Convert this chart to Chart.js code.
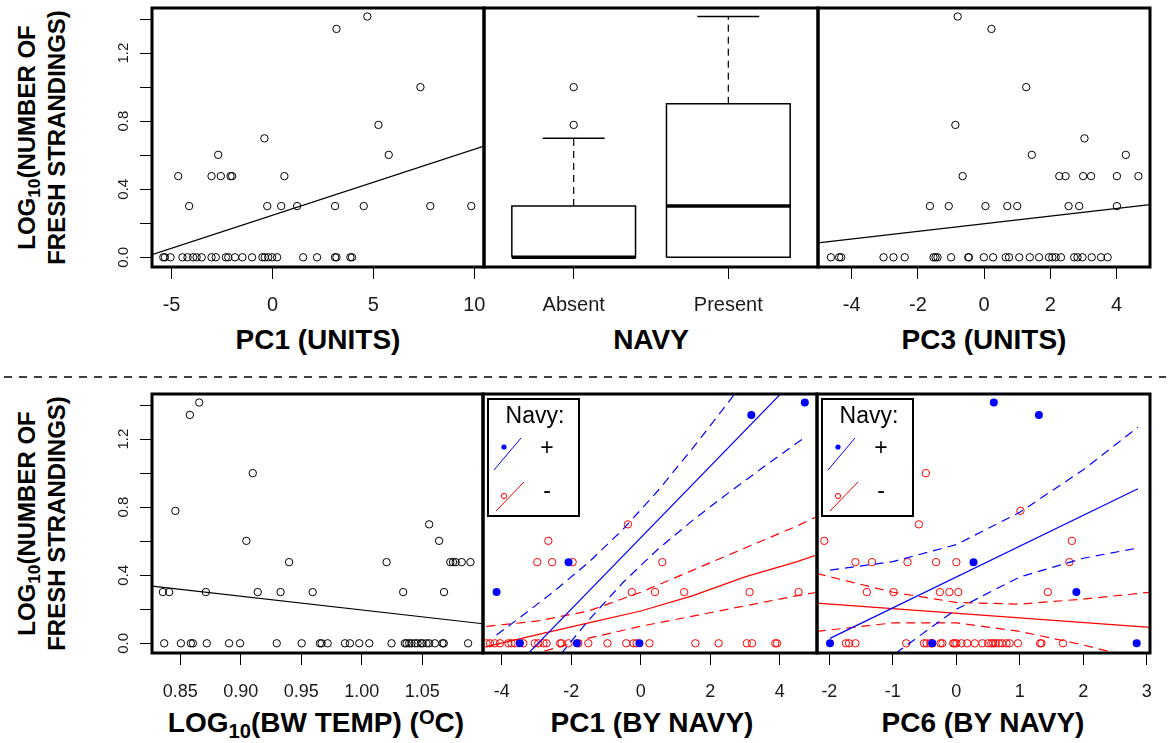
<!DOCTYPE html>
<html>
<head>
<meta charset="utf-8">
<title>Fresh strandings</title>
<script src="https://cdn.jsdelivr.net/npm/chart.js@4.4.0/dist/chart.umd.min.js"></script>
<style>
  body { margin: 0; background: #fff; }
  #page { position: relative; width: 1168px; height: 743px; overflow: hidden;
          font-family: "Liberation Sans", Arial, Helvetica, sans-serif; color: #000; }
  .xtitle { position: absolute; width: 340px; text-align: center; white-space: nowrap;
            font-weight: bold; font-size: 28px; line-height: 28px; }
  .ytitle { position: absolute; width: 300px; height: 59px; text-align: center; white-space: nowrap;
            font-weight: bold; font-size: 24px; line-height: 29.5px; transform: rotate(-90deg); }
  sub { font-size: 0.72em; line-height: 0; vertical-align: -0.3em; }
  sup { font-size: 0.72em; line-height: 0; vertical-align: 0.42em; }
</style>
</head>
<body>
<div id="page">
  <div class="ytitle" style="left:-109px; top:108px;">LOG<sub>10</sub>(NUMBER OF<br>FRESH STRANDINGS)</div>
  <div class="ytitle" style="left:-109px; top:494px;">LOG<sub>10</sub>(NUMBER OF<br>FRESH STRANDINGS)</div>

  <div class="xtitle" style="left:148px; top:326px;">PC1 (UNITS)</div>
  <div class="xtitle" style="left:481px; top:326px;">NAVY</div>
  <div class="xtitle" style="left:814px; top:326px;">PC3 (UNITS)</div>
  <div class="xtitle" style="left:146px; top:709px;">LOG<sub>10</sub>(BW TEMP) (<sup>O</sup>C)</div>
  <div class="xtitle" style="left:482px; top:709px;">PC1 (BY NAVY)</div>
  <div class="xtitle" style="left:813px; top:709px;">PC6 (BY NAVY)</div>

  <svg style="position:absolute; left:0; top:0;" width="1168" height="743">
    <line x1="4" y1="377" x2="1166" y2="377" stroke="#000" stroke-width="1.5" stroke-dasharray="8 7"/>
  </svg>
</div>

<script>
// ---- data ----
const yTicks = [0, 0.2, 0.4, 0.6, 0.8, 1.0, 1.2, 1.4];
const yLabels = ['0.0', '', '0.4', '', '0.8', '', '1.2', ''];

// PC1 (units)
const pc1Ticks = [-5, 0, 5, 10];
const pc1X = [4.70, 3.17, 7.33, 5.25, -0.40, 5.76, -2.69,
  -4.67, -3.02, -2.56, -2.08, -2.00, 0.59,
  -4.13, -0.26, 0.43, 1.22, 3.10, 4.52, 7.82, 9.85,
  -5.41, -5.33, -5.05, -4.46, -4.21, -3.93, -3.76, -3.51, -3.02, -2.81, -2.31, -2.19, -1.86,
  -1.49, -1.01, -0.50, -0.38, -0.21, -0.02, 0.23, 1.52, 2.21, 3.10, 3.17, 3.86, 3.94];
const pc1Y = [1.415, 1.342, 1.0, 0.778, 0.699, 0.602, 0.602,
  0.477, 0.477, 0.477, 0.477, 0.477, 0.477,
  0.301, 0.301, 0.301, 0.301, 0.301, 0.301, 0.301, 0.301,
  0, 0, 0, 0, 0, 0, 0, 0, 0, 0, 0, 0, 0,
  0, 0, 0, 0, 0, 0, 0, 0, 0, 0, 0, 0, 0];
const pc1FitX = [-5.97, 10.48];
const pc1FitY = [0.016, 0.653];

// Navy boxplot
const navyGroups = ['Absent', 'Present'];
const boxQ1 = [0, 0];
const boxMedian = [0, 0.301];
const boxQ3 = [0.301, 0.903];
const boxWhiskerHi = [0.699, 1.415];
const boxOutliers = [[0.778, 1.0], []];

// PC3 (units)
const pc3Ticks = [-4, -2, 0, 2, 4];
const pc3X = [-0.80, 0.22, 1.27, -0.87, 3.03, 1.44, 4.28,
  -0.65, 2.27, 2.46, 2.99, 3.23, 4.01, 4.66,
  -1.64, -1.07, 0.04, 0.70, 1.00, 2.55, 2.87, 4.01,
  -4.63, -4.38, -4.32, -3.04, -2.74, -2.40, -1.53, -1.47, -1.41, -1.00, -0.48, -0.46, -0.01,
  0.27, 0.65, 0.75, 1.06, 1.38, 1.66, 1.96, 2.06, 2.16, 2.32, 2.72, 2.82, 2.97, 3.25, 3.53, 3.73];
const pc3Y = [1.415, 1.342, 1.0, 0.778, 0.699, 0.602, 0.602,
  0.477, 0.477, 0.477, 0.477, 0.477, 0.477, 0.477,
  0.301, 0.301, 0.301, 0.301, 0.301, 0.301, 0.301, 0.301,
  0, 0, 0, 0, 0, 0, 0, 0, 0, 0, 0, 0, 0,
  0, 0, 0, 0, 0, 0, 0, 0, 0, 0, 0, 0, 0, 0, 0, 0];
const pc3FitX = [-5.02, 5.01];
const pc3FitY = [0.085, 0.310];

// log10 bottom water temperature
const tempTicks = [0.85, 0.90, 0.95, 1.00, 1.05];
const tempLabels = ['0.85', '0.90', '0.95', '1.00', '1.05'];
const tempX = [0.8657, 0.8580, 0.9100, 0.8460, 1.0558, 0.9047, 1.0640,
  0.9400, 1.0206, 1.0733, 1.0755, 1.0777, 1.0827, 1.0899,
  0.8357, 0.8409, 0.8712, 0.9141, 0.9330, 0.9595, 1.0343, 1.0681,
  0.8368, 0.8506, 0.8588, 0.8605, 0.8720, 0.8904, 0.8995, 0.9298, 0.9504, 0.9655, 0.9669,
  0.9719, 0.9862, 0.9903, 0.9980, 1.0063, 1.0247, 1.0357, 1.0371, 1.0393, 1.0412, 1.0440,
  1.0462, 1.0489, 1.0503, 1.0536, 1.0558, 1.0605, 1.0668, 1.0679, 1.0880];
const tempY = [1.415, 1.342, 1.0, 0.778, 0.699, 0.602, 0.602,
  0.477, 0.477, 0.477, 0.477, 0.477, 0.477, 0.477,
  0.301, 0.301, 0.301, 0.301, 0.301, 0.301, 0.301, 0.301,
  0, 0, 0, 0, 0, 0, 0, 0, 0, 0, 0,
  0, 0, 0, 0, 0, 0, 0, 0, 0, 0, 0,
  0, 0, 0, 0, 0, 0, 0, 0, 0];
const tempFitX = [0.8267, 1.1003];
const tempFitY = [0.336, 0.115];

// PC1 split by navy presence
const pc1nTicks = [-4, -2, 0, 2, 4];
const navyPosX = [4.72, 3.18, -4.15, -2.08, -3.48, -1.84, -0.04];
const navyPosY = [1.415, 1.342, 0.301, 0.477, 0, 0, 0];
const navyNegX = [-0.37, -2.66, -2.98, -2.55, -1.96, 0.62,
  -0.26, 0.41, 1.25, 3.13, 4.54,
  -4.44, -4.34, -4.20, -4.05, -3.81, -3.72, -3.62, -3.38, -3.05, -2.95, -2.80, -2.71, -2.32, -2.28,
  -2.08, -1.80, -1.51, -0.96, -0.42, -0.21, -0.12, 0.25, 1.57, 2.24, 3.05, 3.20, 3.87, 3.92];
const navyNegY = [0.699, 0.602, 0.477, 0.477, 0.477, 0.477,
  0.301, 0.301, 0.301, 0.301, 0.301,
  0, 0, 0, 0, 0, 0, 0, 0, 0, 0, 0, 0, 0, 0,
  0, 0, 0, 0, 0, 0, 0, 0, 0, 0, 0, 0, 0, 0];
const posFitX = [-4.15, 4.72];
const posFitY = [-0.251, 1.612];
const posBandX = [-4.15, -3.5, -2.5, -1.5, -0.5, 0.5, 1.5, 2.5, 3.5, 4.72];
const posUpper = [0.049, 0.148, 0.305, 0.476, 0.672, 0.898, 1.148, 1.411, 1.681, 2.01];
const posLower = [-0.551, -0.376, -0.113, 0.136, 0.360, 0.554, 0.724, 0.881, 1.031, 1.21];
const negBandX = [-4.44, -3.0, -1.5, 0, 1.5, 3.0, 4.5, 5.07];
const negFit = [-0.02, 0.05, 0.12, 0.19, 0.28, 0.39, 0.48, 0.52];
const negUpper = [0.10, 0.13, 0.19, 0.30, 0.43, 0.56, 0.69, 0.745];
const negLower = [-0.14, -0.06, 0.03, 0.10, 0.16, 0.22, 0.28, 0.30];

// PC6 split by navy presence
const pc6Ticks = [-2, -1, 0, 1, 2, 3];
const pc6PosX = [0.59, 1.30, 0.27, 1.89, -1.99, -0.38, 2.84];
const pc6PosY = [1.415, 1.342, 0.477, 0.301, 0, 0, 0];
const pc6NegX = [-0.48, 1.01, -0.59, -2.08, 1.82,
  -1.59, -1.33, -0.77, -0.32, 0.00, 1.78,
  -1.41, -0.99, -0.26, -0.11, 0.03, 1.44,
  -1.74, -1.69, -1.59, -0.79, -0.51, -0.47, -0.41, -0.38, -0.25, -0.22, -0.05, -0.03, 0.00, 0.08,
  0.17, 0.29, 0.41, 0.50, 0.55, 0.58, 0.62, 0.67, 0.72, 0.79, 0.84, 0.97, 1.32, 1.34, 1.68];
const pc6NegY = [1.0, 0.778, 0.699, 0.602, 0.602,
  0.477, 0.477, 0.477, 0.477, 0.477, 0.477,
  0.301, 0.301, 0.301, 0.301, 0.301, 0.301,
  0, 0, 0, 0, 0, 0, 0, 0, 0, 0, 0, 0, 0, 0,
  0, 0, 0, 0, 0, 0, 0, 0, 0, 0, 0, 0, 0, 0, 0];
const pc6PosFitX = [-1.99, 2.86];
const pc6PosFitY = [0.029, 0.908];
const pc6PosBandX = [-1.99, -1.0, 0, 1.0, 2.0, 2.86];
const pc6PosUpper = [0.43, 0.48, 0.58, 0.77, 1.02, 1.27];
const pc6PosLower = [-0.42, -0.07, 0.20, 0.39, 0.50, 0.56];
const pc6NegFitX = [-2.2, 3.05];
const pc6NegFitY = [0.236, 0.093];
const pc6NegBandX = [-2.2, -1.0, 0, 1.0, 2.0, 3.05];
const pc6NegUpper = [0.41, 0.30, 0.24, 0.23, 0.26, 0.30];
const pc6NegLower = [0.07, 0.12, 0.12, 0.07, -0.01, -0.11];

const keyTitle = 'Navy:';
const keyLabels = ['+', '-'];

// ---- drawing ----
const FONT = '"Liberation Sans", Arial, Helvetica, sans-serif';
const BLUE = '#0000ff';
const RED = '#ff0000';
Chart.defaults.font.family = FONT;

const page = document.getElementById('page');
const pts = (xs, ys) => xs.map((x, i) => ({x, y: ys[i]}));

function openPts(xs, ys, color) {
  return { data: pts(xs, ys), showLine: false, pointRadius: 3.7, pointBorderWidth: 1,
           pointBorderColor: color, pointBackgroundColor: 'rgba(0,0,0,0)' };
}
function dots(xs, ys, color) {
  return { data: pts(xs, ys), showLine: false, pointRadius: 4, pointBorderWidth: 0,
           pointBorderColor: color, pointBackgroundColor: color };
}
function line(xs, ys, color, width, dash) {
  return { data: pts(xs, ys), showLine: true, pointRadius: 0, borderColor: color,
           borderWidth: width, borderDash: dash || [], fill: false };
}

// Chart.js pads the chart area so end labels fit; R does not, so drop that
function noAutoPad(axis) {
  axis.paddingTop = 0;
  axis.paddingBottom = 0;
  axis.paddingLeft = 0;
  axis.paddingRight = 0;
}

// Thick box round each plot region, like R's box()
const framePlugin = {
  id: 'frame',
  afterDatasetsDraw(chart) {
    const {ctx, chartArea: a} = chart;
    ctx.save();
    ctx.strokeStyle = '#000';
    ctx.lineWidth = 3;
    ctx.strokeRect(a.left, a.top, a.right - a.left, a.bottom - a.top);
    ctx.restore();
  }
};

// The little "Navy: + / -" key in the top left corner
const keyPlugin = {
  id: 'navyKey',
  afterDraw(chart) {
    const {ctx, chartArea: a} = chart;
    const x = a.left + 5, y = a.top + 5;
    ctx.save();
    ctx.fillStyle = '#fff';
    ctx.fillRect(x, y, 91, 117);
    ctx.lineWidth = 2;
    ctx.strokeStyle = '#000';
    ctx.strokeRect(x, y, 91, 117);
    ctx.fillStyle = '#000';
    ctx.font = '23px ' + FONT;
    ctx.textAlign = 'center';
    ctx.textBaseline = 'middle';
    ctx.fillText(keyTitle, x + 47, y + 18);
    ctx.fillText(keyLabels[0], x + 59, y + 50);
    ctx.fillText(keyLabels[1], x + 59, y + 93);
    ctx.lineWidth = 1;
    ctx.strokeStyle = BLUE;
    ctx.beginPath(); ctx.moveTo(x + 6, y + 71); ctx.lineTo(x + 33, y + 39); ctx.stroke();
    ctx.fillStyle = BLUE;
    ctx.beginPath(); ctx.arc(x + 16, y + 48, 2.6, 0, 2 * Math.PI); ctx.fill();
    ctx.strokeStyle = RED;
    ctx.beginPath(); ctx.moveTo(x + 8, y + 112); ctx.lineTo(x + 36, y + 83); ctx.stroke();
    ctx.beginPath(); ctx.arc(x + 16, y + 97, 2.6, 0, 2 * Math.PI); ctx.stroke();
    ctx.restore();
  }
};

function makePanel(frame, opts) {
  const padL = opts.showY ? 70 : 20, padR = 18, padT = 6, axisH = 50;
  const w = frame.r - frame.l + padL + padR;
  const h = frame.b - frame.t + padT + axisH;
  const canvas = document.createElement('canvas');
  canvas.width = w;
  canvas.height = h;
  canvas.style.cssText = `position:absolute;left:${frame.l - padL}px;top:${frame.t - padT}px;width:${w}px;height:${h}px`;
  page.appendChild(canvas);

  const tickGrid = { drawOnChartArea: false, drawTicks: true, tickLength: 12, color: '#000', lineWidth: 1 };
  new Chart(canvas, {
    type: 'scatter',
    data: { datasets: opts.datasets },
    options: {
      responsive: false,
      animation: false,
      events: [],
      layout: { autoPadding: false, padding: { left: opts.showY ? 0 : padL, right: padR, top: padT, bottom: 0 } },
      plugins: { legend: { display: false }, tooltip: { enabled: false } },
      scales: {
        x: {
          type: 'linear', min: opts.xMin, max: opts.xMax,
          afterBuildTicks: axis => { axis.ticks = opts.xTicks.map(v => ({value: v})); },
          afterFit: axis => { axis.height = axisH; noAutoPad(axis); },
          grid: tickGrid,
          border: { display: false },
          ticks: {
            color: '#1a1a1a', font: { size: opts.tickSize }, padding: opts.tickPad,
            minRotation: 0, maxRotation: 0, autoSkip: false,
            callback: (v, i) => opts.xLabels ? opts.xLabels[i] : String(v)
          }
        },
        y: {
          type: 'linear', min: -0.057, max: 1.465,
          display: opts.showY,
          afterBuildTicks: axis => { axis.ticks = yTicks.map(v => ({value: v})); },
          afterFit: axis => { if (opts.showY) axis.width = padL; noAutoPad(axis); },
          grid: tickGrid,
          border: { display: false },
          ticks: {
            color: '#1a1a1a', font: { size: 15 }, padding: 6, crossAlign: 'center',
            minRotation: 90, maxRotation: 90, autoSkip: false,
            callback: (v, i) => yLabels[i]
          }
        }
      }
    },
    plugins: opts.key ? [framePlugin, keyPlugin] : [framePlugin]
  });
}

// boxplot pieces, drawn as line datasets at positions 1 and 2
function boxDatasets() {
  const sets = [];
  navyGroups.forEach((g, i) => {
    const c = i + 1;
    sets.push(line([c - 0.4, c + 0.4], [boxMedian[i], boxMedian[i]], '#000', 3.5));
    sets.push(line([c - 0.4, c + 0.4, c + 0.4, c - 0.4, c - 0.4],
                   [boxQ1[i], boxQ1[i], boxQ3[i], boxQ3[i], boxQ1[i]], '#000', 1.5));
    sets.push(line([c, c], [boxQ3[i], boxWhiskerHi[i]], '#000', 1.2, [7, 5]));
    sets.push(line([c - 0.2, c + 0.2], [boxWhiskerHi[i], boxWhiskerHi[i]], '#000', 1.5));
    if (boxOutliers[i].length) {
      sets.push(openPts(boxOutliers[i].map(() => c), boxOutliers[i], '#000'));
    }
  });
  return sets;
}

const TOP = { tickSize: 20, tickPad: 14.5 };
const BOTTOM = { tickSize: 18, tickPad: 16 };

makePanel({l: 152, t: 8, r: 484, b: 267}, Object.assign({}, TOP, {
  showY: true, xMin: -5.97, xMax: 10.48, xTicks: pc1Ticks,
  datasets: [line(pc1FitX, pc1FitY, '#000', 1.2), openPts(pc1X, pc1Y, '#000')]
}));

makePanel({l: 484, t: 8, r: 818, b: 267}, Object.assign({}, TOP, {
  showY: false, xMin: 0.42, xMax: 2.58, xTicks: [1, 2], xLabels: navyGroups,
  datasets: boxDatasets()
}));

makePanel({l: 818, t: 8, r: 1150, b: 267}, Object.assign({}, TOP, {
  showY: false, xMin: -5.02, xMax: 5.01, xTicks: pc3Ticks,
  datasets: [line(pc3FitX, pc3FitY, '#000', 1.2), openPts(pc3X, pc3Y, '#000')]
}));

makePanel({l: 152, t: 394, r: 483, b: 653}, Object.assign({}, BOTTOM, {
  showY: true, xMin: 0.8267, xMax: 1.1003, xTicks: tempTicks, xLabels: tempLabels,
  datasets: [line(tempFitX, tempFitY, '#000', 1.2), openPts(tempX, tempY, '#000')]
}));

makePanel({l: 483, t: 394, r: 817, b: 653}, Object.assign({}, BOTTOM, {
  showY: false, xMin: -4.54, xMax: 5.07, xTicks: pc1nTicks, key: true,
  datasets: [
    dots(navyPosX, navyPosY, BLUE),
    line(posFitX, posFitY, BLUE, 1.2),
    line(posBandX, posUpper, BLUE, 1.2, [9, 6]),
    line(posBandX, posLower, BLUE, 1.2, [9, 6]),
    openPts(navyNegX, navyNegY, RED),
    line(negBandX, negFit, RED, 1.2),
    line(negBandX, negUpper, RED, 1.2, [9, 6]),
    line(negBandX, negLower, RED, 1.2, [9, 6])
  ]
}));

makePanel({l: 817, t: 394, r: 1150, b: 653}, Object.assign({}, BOTTOM, {
  showY: false, xMin: -2.195, xMax: 3.05, xTicks: pc6Ticks, key: true,
  datasets: [
    dots(pc6PosX, pc6PosY, BLUE),
    line(pc6PosFitX, pc6PosFitY, BLUE, 1.2),
    line(pc6PosBandX, pc6PosUpper, BLUE, 1.2, [9, 6]),
    line(pc6PosBandX, pc6PosLower, BLUE, 1.2, [9, 6]),
    openPts(pc6NegX, pc6NegY, RED),
    line(pc6NegFitX, pc6NegFitY, RED, 1.2),
    line(pc6NegBandX, pc6NegUpper, RED, 1.2, [9, 6]),
    line(pc6NegBandX, pc6NegLower, RED, 1.2, [9, 6])
  ]
}));
</script>
</body>
</html>
